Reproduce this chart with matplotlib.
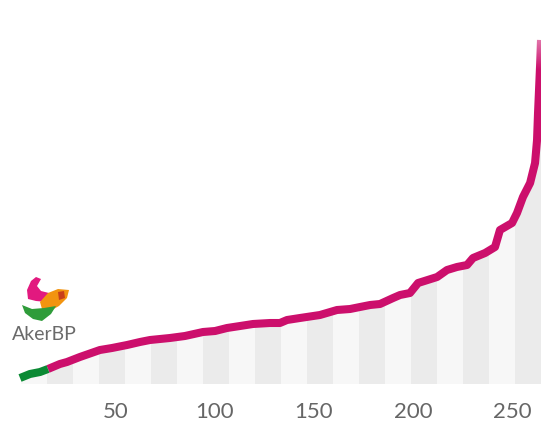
import numpy as np
import matplotlib
matplotlib.use("Agg")
import matplotlib.pyplot as plt
from matplotlib.patches import Polygon

plt.rcParams['font.family'] = ['Lato', 'DejaVu Sans']

# line (rank, value)
x_green = [1.8, 6.8, 11.9, 15.9]
y_green = [6, 10, 12, 15]

x_main = [15.9, 21.9, 25.5, 32.0, 42.1, 48.2, 55.8, 62.3, 67.4, 77.4, 85.0,
          94.1, 100.2, 106.2, 112.8, 119.3, 127.9, 132.9, 136.5, 143.0, 153.1,
          161.7, 168.3, 173.3, 178.4, 183.4, 190.0, 193.5, 198.5, 202.6, 212.2,
          217.2, 222.2, 227.3, 230.3, 236.4, 241.4, 243.9, 250.0, 252.5, 255.5,
          259.1, 261.6, 262.6, 263.1, 264.1, 264.6]
y_main = [15, 20, 22, 27, 34, 36, 39, 42, 44, 46, 48,
          52, 53, 56, 58, 60, 61, 61, 64, 66, 69,
          74, 75, 77, 79, 80, 86, 89, 91, 101, 107,
          114, 117, 119, 126, 131, 137, 154, 161, 171, 187,
          201, 221, 244, 271, 317, 344]

xticks = [50, 100, 150, 200, 250]
band_start = 2.3
band_step = 13.12

magenta = '#cc0f6c'
green = '#0b8a34'

fig = plt.figure(figsize=(5.41, 4.22), dpi=100)
ax = fig.add_axes([0, 38/422, 1, 384/422])

# striped background under the curve
edges = np.arange(band_start, 270, band_step)
for i in range(len(edges) - 1):
    c = '#f7f7f7' if i % 2 == 0 else '#ebebeb'
    ax.axvspan(edges[i], edges[i+1], color=c, lw=0, zorder=1)

xa = x_green + x_main[1:]
ya = y_green + y_main[1:]
ax.fill_between(xa, ya, 400, color='white', lw=0, zorder=2)
ax.fill_between([-10, xa[0]], 0, 400, color='white', lw=0, zorder=2)

ax.plot(x_main, y_main, color=magenta, lw=5.8, solid_capstyle='butt',
        solid_joinstyle='round', zorder=3)
ax.plot(x_green, y_green, color=green, lw=5.8, solid_capstyle='butt',
        solid_joinstyle='round', zorder=4)

# fade the top of the line into white
grad = np.ones((100, 2, 4))
grad[:, :, 3] = np.linspace(1, 0, 100)[:, None]
ax.imshow(grad, extent=(200, 264.6, 314, 384), aspect='auto', zorder=5,
          interpolation='bilinear', origin='upper')
ax.set_xlim(-8.3, 264.6)
ax.set_ylim(0, 384)

ax.set_xticks(xticks)
ax.set_xticklabels([str(t) for t in xticks])
ax.tick_params(axis='x', length=0, pad=13, labelsize=16, labelcolor='#666666')
ax.set_yticks([])
for s in ax.spines.values():
    s.set_visible(False)

# AkerBP logo (rough)
lax = fig.add_axes([0, 1 - 350/422, 90/541, 80/422])
lax.set_xlim(0, 90)
lax.set_ylim(350, 270)
lax.axis('off')
lax.add_patch(Polygon([(31, 281), (36, 277), (41, 279), (37, 286), (41, 291),
                       (49, 293), (47, 302), (36, 301), (28, 299), (27, 290)],
                      closed=True, color='#e2197f', lw=0))
lax.add_patch(Polygon([(40, 302), (48, 293), (58, 289), (69, 290), (67, 298),
                       (59, 306), (50, 311), (42, 309)],
                      closed=True, color='#f29410', lw=0))
lax.add_patch(Polygon([(58, 292), (64, 291), (65, 298), (59, 300)],
                      closed=True, color='#c9401a', lw=0))
lax.add_patch(Polygon([(22, 305), (32, 309), (44, 308), (56, 306), (51, 314),
                       (42, 321), (33, 319), (25, 313)],
                      closed=True, color='#2f9c3a', lw=0))
lax.text(44.5, 335, 'AkerBP', ha='center', va='center', fontsize=14,
         color='#6a6a6a')

fig.savefig('out.png', dpi=100)
